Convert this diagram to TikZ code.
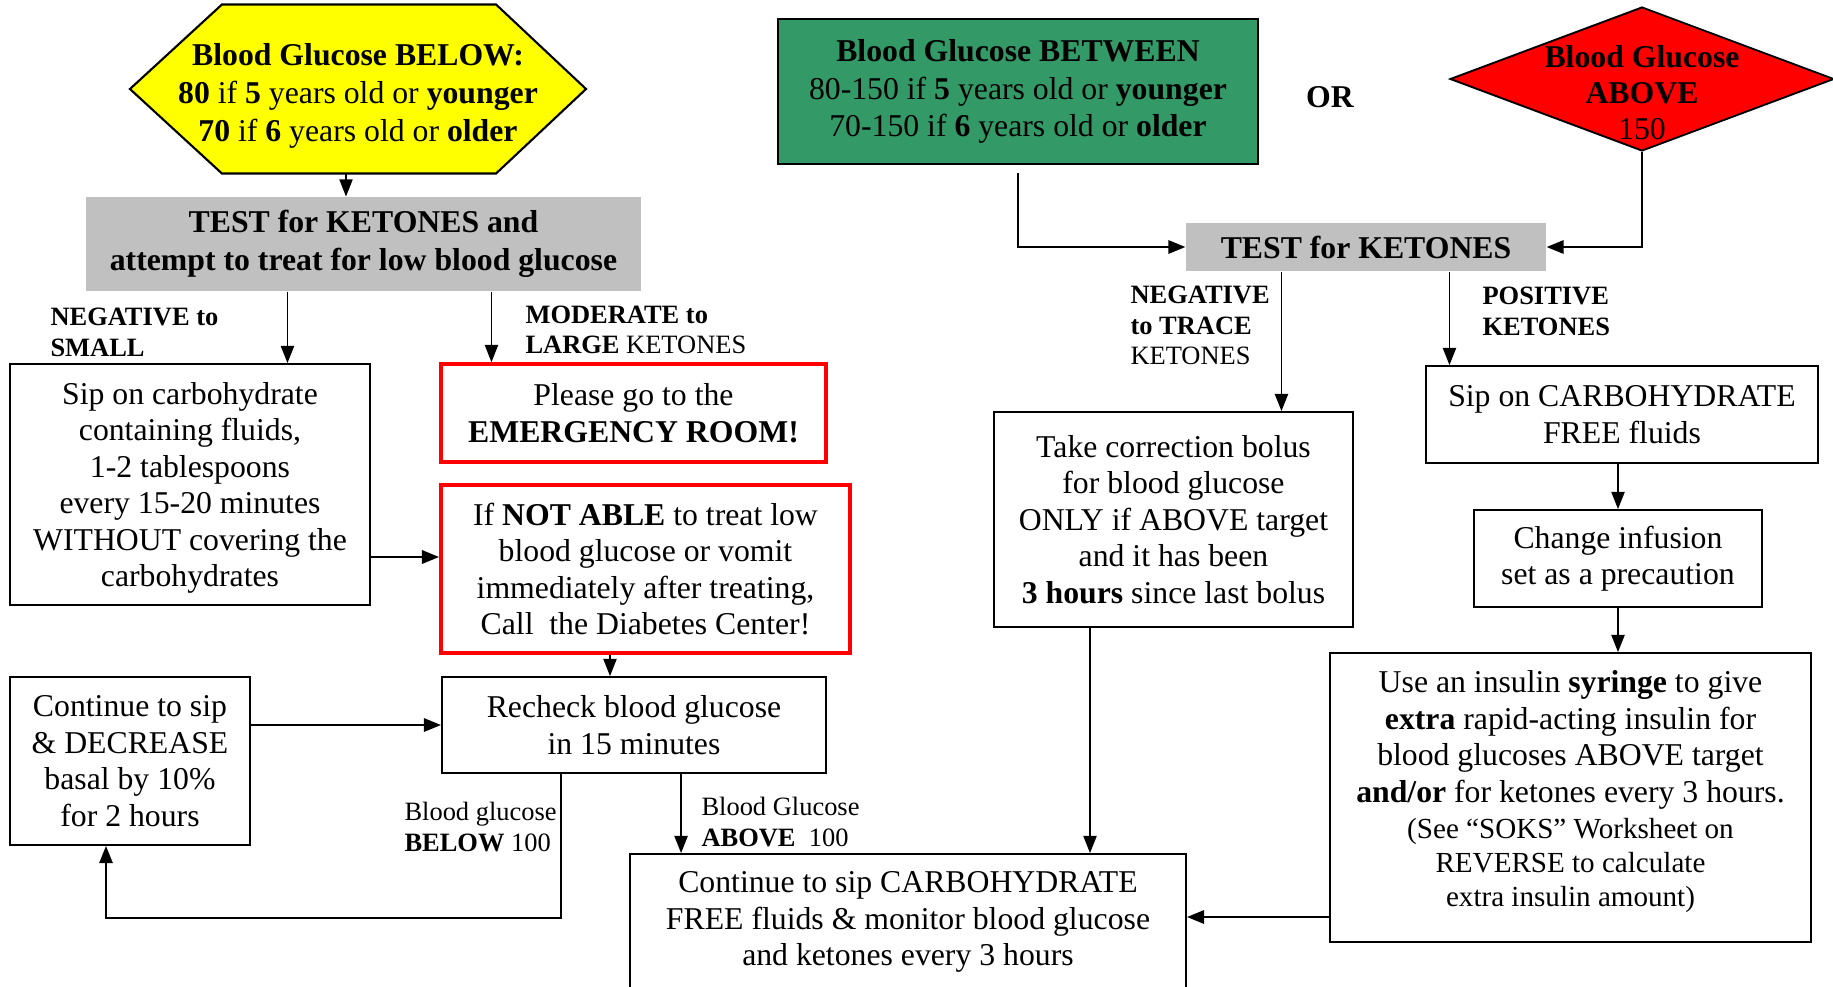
\documentclass[tikz,border=0pt]{standalone}
\usepackage{fontspec}
\setmainfont{Liberation Serif}
\usetikzlibrary{calc,shapes.geometric,arrows.meta}
\definecolor{hexyellow}{HTML}{FFFF00}
\definecolor{seagreen}{HTML}{339966}
\definecolor{testgray}{HTML}{C0C0C0}
\definecolor{alarmred}{HTML}{FF0000}
\tikzset{
  wh/.style 2 args={minimum width=#1*0.378pt, minimum height=#2*0.378pt},
  box/.style={draw, line width=0.7pt, align=center, inner sep=0pt, font=\fontsize{12}{13.8}\selectfont},
  redbox/.style={box, draw=alarmred, line width=1.4pt},
  graybox/.style={fill=testgray, align=center, inner sep=0pt, font=\bfseries\fontsize{12}{14.4}\selectfont},
  lbl/.style={anchor=west, align=left, inner sep=0pt, font=\fontsize{10}{11.5}\selectfont},
  arr/.style={line width=0.6pt, -{Triangle[length=6.5pt,width=5pt]}},
  thickarr/.style={arr, line width=1pt},
}
\begin{document}
\begin{tikzpicture}[x=0.378pt, y=-0.378pt]
    \path[use as bounding box, fill=white] (0,0) rectangle (1833,987);
    %% Left: low blood glucose
    \node[wh={455}{168}, inner sep=0pt] (low) at (358,89) {};
    \filldraw[fill=hexyellow, line width=0.8pt] (low.west) -- ($(low.north west)+(92,0)$)
        -- ($(low.north east)+(-90,0)$) -- (low.east) -- ($(low.south east)+(-90,0)$)
        -- ($(low.south west)+(92,0)$) -- cycle;
    \node[align=center, font=\fontsize{12}{14.5}\selectfont] (lowtext) at ($(low.center)+(0,7)$)
        {\textbf{Blood Glucose BELOW:}\\\textbf{80} if \textbf{5} years old or \textbf{younger}\\\textbf{70} if \textbf{6} years old or \textbf{older}};
    \node[graybox, wh={555}{94}] (test1) at (363.5,244) {TEST for KETONES and\\attempt to treat for low blood glucose};
    \node[box, wh={360}{241}, text depth=-1.8pt] (sip1) at (190,484.5) {Sip on carbohydrate\\containing fluids,\\1-2 tablespoons\\every 15-20 minutes\\WITHOUT covering the\\carbohydrates};
    \node[redbox, wh={385}{98}] (er) at (633.5,413) {Please go to the\\\textbf{EMERGENCY ROOM!}};
    \node[redbox, wh={409}{168}] (unable) at (645.5,569) {If \textbf{NOT ABLE} to treat low\\blood glucose or vomit\\immediately after treating,\\Call~ the Diabetes Center!};
    \node[box, wh={384}{96}] (recheck) at (634,725) {Recheck blood glucose\\in 15 minutes};
    \node[box, wh={240}{168}] (decrease) at (130,761) {Continue to sip\\\& DECREASE\\basal by 10\%\\for 2 hours};
    \node[box, wh={556}{136}] (monitor) at (908,922) {Continue to sip CARBOHYDRATE\\FREE fluids \& monitor blood glucose\\and ketones every 3 hours};
    %% Right: normal or high blood glucose
    \node[box, fill=seagreen, line width=0.9pt, wh={480}{145}, font=\fontsize{12}{14.2}\selectfont] (between) at (1018,91.5)
        {\textbf{Blood Glucose BETWEEN}\\80-150 if \textbf{5} years old or \textbf{younger}\\70-150 if \textbf{6} years old or \textbf{older}};
    \node[font=\bfseries\fontsize{12}{14}\selectfont] (or) at (1330,97) {OR};
    \node[diamond, draw, fill=alarmred, line width=0.7pt, wh={384}{144}, inner sep=0pt] (high) at (1642,79) {};
    \node[align=center, font=\fontsize{12}{13.6}\selectfont] (hightext) at (1642,93) {\textbf{Blood Glucose}\\\textbf{ABOVE}\\150};
    \node[graybox, wh={360}{48}] (test2) at (1366,247) {TEST for KETONES};
    \node[box, wh={359}{215}] (bolus) at (1173.5,519.5) {Take correction bolus\\for blood glucose\\ONLY if ABOVE target\\and it has been\\\textbf{3 hours} since last bolus};
    \node[box, wh={392}{97}] (freefl) at (1622,414.5) {Sip on CARBOHYDRATE\\FREE fluids};
    \node[box, wh={288}{97}] (infusion) at (1618,558.5) {Change infusion\\set as a precaution};
    \node[box, wh={481}{289}, text depth=6.8pt] (syringe) at (1570.5,797.5) {Use an insulin \textbf{syringe} to give\\\textbf{extra} rapid-acting insulin for\\blood glucoses ABOVE target\\\textbf{and/or} for ketones every 3 hours.\\{\fontsize{11}{12.9}\selectfont (See “SOKS” Worksheet on}\\[-1pt]{\fontsize{11}{12.9}\selectfont REVERSE to calculate}\\[-1pt]{\fontsize{11}{12.9}\selectfont extra insulin amount)}};
    %% Labels
    \node[lbl, font=\bfseries\fontsize{10}{11.7}\selectfont] (negsmall) at (50,332.5) {NEGATIVE to\\SMALL};
    \node[lbl] (modlarge) at (525,330) {\textbf{MODERATE to}\\\textbf{LARGE} KETONES};
    \node[lbl] (below100) at (404,827) {Blood glucose\\\textbf{BELOW} 100};
    \node[lbl] (above100) at (701,822) {Blood Glucose\\\textbf{ABOVE}~ 100};
    \node[lbl] (negtrace) at (1130,325.5) {\textbf{NEGATIVE}\\\textbf{to TRACE}\\KETONES};
    \node[lbl] (positive) at (1482,311.5) {\textbf{POSITIVE}\\\textbf{KETONES}};
    %% Connectors, left
    \coordinate (lowout) at ($(low.south)+(-12,0)$);
    \coordinate (t1neg) at ($(test1.south west)+(202,0)$);
    \coordinate (t1mod) at ($(test1.south west)+(406,0)$);
    \coordinate (sipout) at ($(sip1.east)+(0,72.5)$);
    \coordinate (unableout) at ($(unable.south)+(-35.5,0)$);
    \coordinate (lowloop) at ($(recheck.south west)+(120,0)$);
    \coordinate (decin) at ($(decrease.south)+(-24,0)$);
    \coordinate (highout) at ($(recheck.south west)+(240,0)$);
    \draw[arr] (lowout) -- (lowout |- test1.north);
    \draw[arr] (t1neg) -- (t1neg |- sip1.north);
    \draw[arr] (t1mod) -- (t1mod |- er.north);
    \draw[thickarr] (sipout) -- (sipout -| unable.west);
    \draw[arr] (unableout) -- (unableout |- recheck.north);
    \draw[thickarr] (decrease.east |- recheck.west) -- (recheck.west);
    \draw[arr, line width=0.8pt] (lowloop) -- ++(0,144) -| (decin);
    \draw[arr] (highout) -- (highout |- monitor.north);
    %% Connectors, right
    \coordinate (t2neg) at ($(test2.south west)+(96,0)$);
    \coordinate (t2pos) at ($(test2.south west)+(264,0)$);
    \coordinate (bolusout) at ($(bolus.south)+(-83.5,0)$);
    \coordinate (syrout) at ($(syringe.west)+(0,119.5)$);
    \draw[thickarr] ($(between.south)+(0,8)$) |- (test2.west);
    \draw[thickarr] (high.south) |- (test2.east);
    \draw[arr] (t2neg) -- (t2neg |- bolus.north);
    \draw[arr] (t2pos) -- (t2pos |- freefl.north);
    \draw[arr] (bolusout) -- (bolusout |- monitor.north);
    \draw[arr] (infusion.north |- freefl.south) -- (infusion.north);
    \draw[arr] (infusion.south) -- (infusion.south |- syringe.north);
    \draw[thickarr] (syrout) -- (syrout -| monitor.east);
\end{tikzpicture}
\end{document}
